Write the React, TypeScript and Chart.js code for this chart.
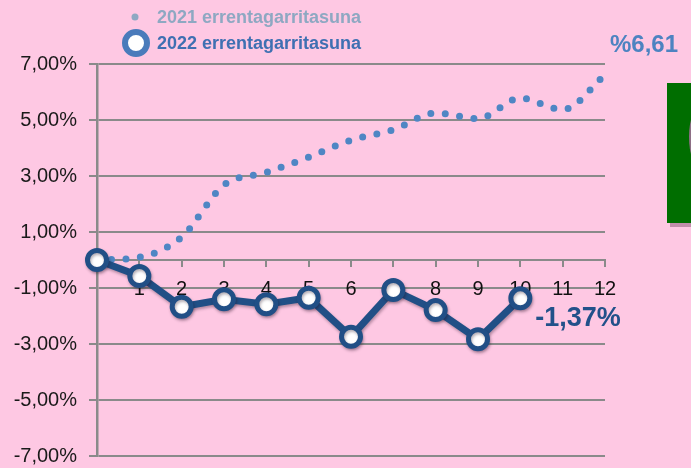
import React, { useEffect, useRef } from "react";
import { Chart, registerables } from "chart.js";

Chart.register(...registerables);

const months = [0, 1, 2, 3, 4, 5, 6, 7, 8, 9, 10, 11, 12];
const rent2021 = [0, 0.1, 0.82, 2.68, 3.13, 3.67, 4.28, 4.65, 5.25, 5.05, 5.78, 5.37, 6.61];
const rent2022 = [0, -0.57, -1.67, -1.4, -1.58, -1.35, -2.74, -1.07, -1.79, -2.83, -1.37];
const label2021 = "2021 errentagarritasuna";
const label2022 = "2022 errentagarritasuna";

const PINK = "#fec8e3";
const NAVY = "#214f86";
const DOTBLUE = "#4f86c4";
const GRID = "#8a8a8a";
const FONT = '"Liberation Sans", Arial, Helvetica, sans-serif';

const fmtComma = (v: number) => v.toFixed(2).replace(".", ",");

const overlayPlugin = {
  id: "overlay",
  beforeDatasetDraw(chart: any, args: any) {
    if (args.meta.label === label2022) {
      const ctx = chart.ctx;
      ctx.save();
      ctx.shadowColor = "rgba(40,20,40,0.35)";
      ctx.shadowBlur = 3;
      ctx.shadowOffsetX = 1;
      ctx.shadowOffsetY = 2;
    }
  },
  afterDatasetDraw(chart: any, args: any) {
    if (args.meta.label === label2022) {
      chart.ctx.restore();
    }
  },
  afterDraw(chart: any) {
    const ctx = chart.ctx;
    const xs = chart.scales.x;
    const ys = chart.scales.y;
    ctx.save();

    // Legend
    ctx.textBaseline = "middle";
    ctx.textAlign = "left";
    ctx.font = `bold 18px ${FONT}`;
    ctx.fillStyle = "#8ea8c2";
    ctx.beginPath();
    ctx.arc(135, 17, 3.5, 0, Math.PI * 2);
    ctx.fill();
    ctx.fillText(label2021, 157, 18);

    ctx.beginPath();
    ctx.arc(136, 43, 11, 0, Math.PI * 2);
    ctx.fillStyle = "#ffffff";
    ctx.fill();
    ctx.lineWidth = 6;
    ctx.strokeStyle = "#4a7bbb";
    ctx.stroke();
    ctx.fillStyle = "#3f70b2";
    ctx.fillText(label2022, 157, 44);

    // End-value annotations
    const last21 = rent2021[rent2021.length - 1];
    const last22 = rent2022[rent2022.length - 1];
    ctx.textBaseline = "alphabetic";
    ctx.font = `bold 24px ${FONT}`;
    ctx.fillStyle = "#4d83c1";
    ctx.fillText("%" + fmtComma(last21), xs.getPixelForValue(months[rent2021.length - 1]) + 5, ys.getPixelForValue(last21) - 23);
    ctx.font = `bold 27px ${FONT}`;
    ctx.fillStyle = "#22518a";
    ctx.fillText(fmtComma(last22) + "%", xs.getPixelForValue(months[rent2022.length - 1]) + 15, ys.getPixelForValue(last22) + 28);

    // Green decoration at right edge
    ctx.fillStyle = "rgba(120,70,100,0.45)";
    ctx.fillRect(670, 86, 24, 141);
    ctx.fillStyle = "#006e00";
    ctx.fillRect(667, 83, 24, 140);
    ctx.fillStyle = "#8d6f85";
    ctx.beginPath();
    ctx.ellipse(700, 137, 11, 30, 0, 0, Math.PI * 2);
    ctx.fill();

    ctx.restore();
  },
};

export default function App() {
  const ref = useRef<HTMLCanvasElement | null>(null);
  useEffect(() => {
    if (!ref.current) return;
    const chart = new Chart(ref.current, {
      type: "line",
      data: {
        datasets: [
          {
            label: label2022,
            data: rent2022.map((v, i) => ({ x: months[i], y: v })),
            borderColor: NAVY,
            borderWidth: 7,
            pointRadius: 9.5,
            pointBorderWidth: 5,
            pointBackgroundColor: "#ffffff",
            pointBorderColor: NAVY,
            tension: 0,
            clip: false,
            order: 1,
          } as any,
          {
            label: label2021,
            data: rent2021.map((v, i) => ({ x: months[i], y: v })),
            borderColor: DOTBLUE,
            borderWidth: 7,
            borderDash: [0, 14.5],
            borderCapStyle: "round",
            pointRadius: 0,
            cubicInterpolationMode: "monotone",
            clip: false,
            order: 2,
          } as any,
        ],
      },
      options: {
        animation: false,
        responsive: false,
        maintainAspectRatio: false,
        layout: { autoPadding: false, padding: { top: 64, right: 86, bottom: 12, left: 0 } },
        plugins: {
          legend: { display: false },
          tooltip: { enabled: false },
        },
        scales: {
          x: {
            type: "linear",
            min: 0,
            max: 12,
            position: { y: 0 } as any,
            ticks: {
              stepSize: 1,
              color: "#111",
              font: { size: 20, family: FONT },
              padding: 11,
              maxRotation: 0,
              callback: (v: any) => (v === 0 ? "" : String(v)),
            },
            grid: {
              drawOnChartArea: false,
              drawTicks: true,
              tickLength: 6,
              color: GRID,
              lineWidth: 2,
            },
            border: { color: GRID, width: 2 },
            afterFit: (s: any) => {
              s.paddingLeft = 0;
              s.paddingRight = 0;
              s.paddingTop = 0;
              s.paddingBottom = 0;
            },
          },
          y: {
            min: -7,
            max: 7,
            ticks: {
              stepSize: 2,
              color: "#1a1a1a",
              font: { size: 20, family: FONT },
              padding: 12,
              callback: (v: any) => fmtComma(Number(v)) + "%",
            },
            grid: {
              color: GRID,
              lineWidth: 2,
              tickLength: 8,
            },
            border: { color: GRID, width: 2.5 },
            afterFit: (s: any) => {
              s.width = 97;
              s.paddingTop = 0;
              s.paddingBottom = 0;
            },
          },
        },
      },
      plugins: [overlayPlugin],
    });
    return () => chart.destroy();
  }, []);
  return (
    <div style={{ position: "fixed", left: 0, top: 0, width: 691, height: 468, background: PINK }}>
      <canvas ref={ref} width={691} height={468} style={{ display: "block", width: 691, height: 468 }} />
    </div>
  );
}
